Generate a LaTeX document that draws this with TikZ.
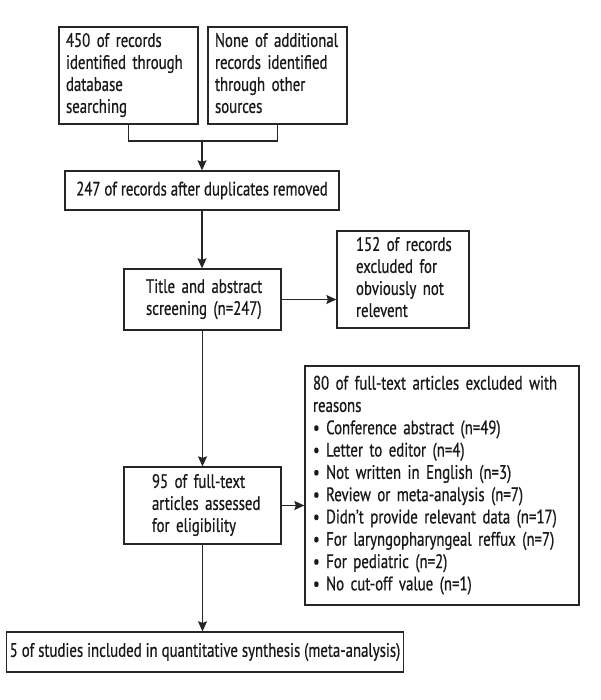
\documentclass[tikz,border=0pt]{standalone}
\usepackage{fontspec}
\setmainfont[FakeStretch=0.76,FakeBold=0.6]{PT Sans}
\usetikzlibrary{arrows.meta}
\newcommand\lefttext[1]{\makebox[\linewidth][l]{\begin{tabular}{@{}l@{}}#1\end{tabular}}}
\begin{document}
\begin{tikzpicture}[x=1pt,y=-1pt,
  box/.style={draw=black!85,line width=1.3pt,rectangle,inner ysep=0pt,
    font=\fontsize{19.5}{22}\selectfont,text=black!90},
  lbox/.style={box,align=left},
  arr/.style={line width=1.3pt,draw=black!85,-{Stealth[length=10pt,width=9pt,inset=1.5pt]}},
  ln/.style={line width=1.3pt,draw=black!85}]
\useasboundingbox (0,0) rectangle (600,700);
\fill[white] (0,0) rectangle (600,700);
\node[lbox,minimum width=139pt,minimum height=97pt,text width=125pt,inner xsep=7pt] (b1) at (128.5,75.5)
  {\lefttext{450 of records\\identified through\\database\\searching}};
\node[lbox,minimum width=139pt,minimum height=97pt,text width=125pt,inner xsep=7pt] (b2) at (277.5,75.5)
  {\lefttext{None of additional\\records identified\\through other\\sources}};
\node[box,minimum width=274pt,minimum height=39pt,align=center] (b3) at (202,190.5)
  {247 of records after duplicates removed};
\node[lbox,minimum width=157pt,minimum height=61pt,text width=113pt,inner xsep=22pt] (b4) at (202.5,299.5)
  {\lefttext{Title and abstract\\screening (n=247)}};
\node[lbox,minimum width=132pt,minimum height=97pt,text width=94pt,inner xsep=19pt] (b5) at (403,279.5)
  {\lefttext{152 of records\\excluded for\\obviously not\\relevent}};
\node[lbox,minimum width=157pt,minimum height=77pt,text width=101pt,inner xsep=28pt] (b6) at (202.5,505.5)
  {\lefttext{95 of full-text\\articles assessed\\for eligibility}};
\node[lbox,minimum width=274pt,minimum height=239pt,text width=258pt,inner xsep=8pt,
  font=\fontsize{19.5}{22.3}\selectfont] (b7) at (442,485.5)
  {\lefttext{80 of full-text articles excluded with\\reasons\\
   • Conference abstract (n=49)\\
   • Letter to editor (n=4)\\
   • Not written in English (n=3)\\
   • Review or meta-analysis (n=7)\\
   • Didn’t provide relevant data (n=17)\\
   • For laryngopharyngeal reffux (n=7)\\
   • For pediatric (n=2)\\
   • No cut-off value (n=1)}};
\node[box,minimum width=374pt,minimum height=40pt,align=center] (b8) at (205,652)
  {5 of studies included in quantitative synthesis (meta-analysis)};
\coordinate (j) at (202,141);
\draw[ln] (b1.south) |- (j) -| (b2.south);
\draw[arr] (j) -- (j |- b3.north);
\draw[arr] (b3.south) -- (b3.south |- b4.north);
\draw[arr] (b4.east) -- (b4.east -| b5.west);
\draw[arr] (b4.south) -- (b4.south |- b6.north);
\draw[arr] (b6.east) -- (b6.east -| b7.west);
\draw[arr] (b6.south) -- (b6.south |- b8.north);
\end{tikzpicture}
\end{document}
